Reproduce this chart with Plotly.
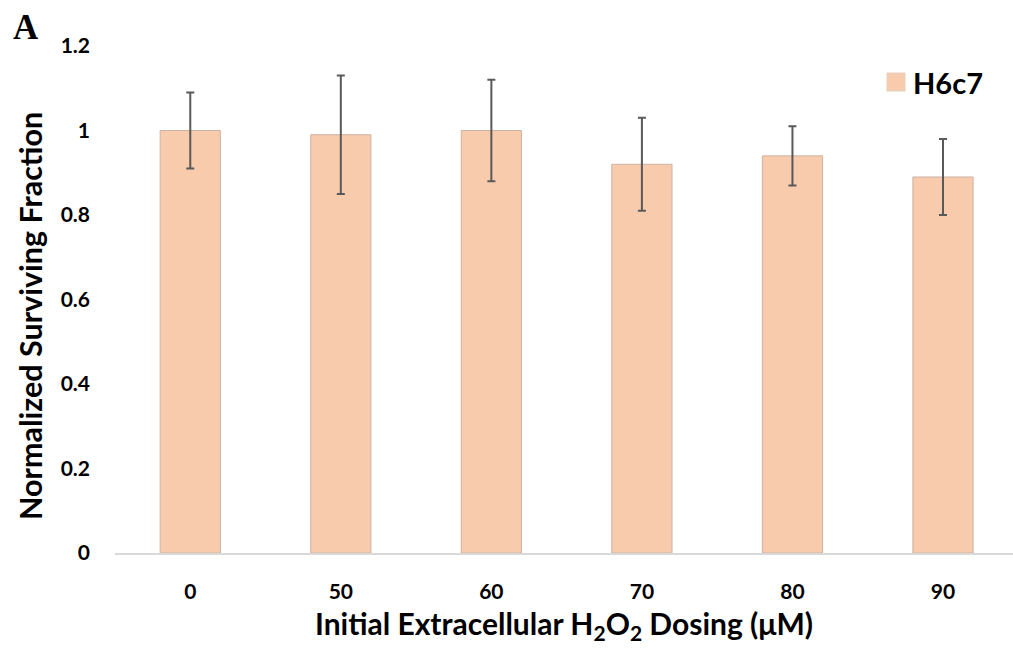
import plotly.graph_objects as go

# Survival of H6c7 cells after extracellular H2O2 dosing
doses = ["0", "50", "60", "70", "80", "90"]
surviving_fraction = [1.00, 0.99, 1.00, 0.92, 0.94, 0.89]
error = [0.09, 0.14, 0.12, 0.11, 0.07, 0.09]
series_name = "H6c7"
y_ticks = [0, 0.2, 0.4, 0.6, 0.8, 1, 1.2]
y_tick_text = ["0", "0.2", "0.4", "0.6", "0.8", "1", "1.2"]

FONT = "Lato"
BAR_FILL = "#F8CBAD"
W, H = 1013, 650
ML, MT, MB = 115, 46, 97
plot_w = W - ML
plot_h = H - MT - MB


def px_x(px):
    """Figure pixel column -> plot-domain fraction."""
    return (px - ML) / plot_w


def px_y(py):
    """Figure pixel row -> plot-domain fraction."""
    return 1 - (py - MT) / plot_h


fig = go.Figure()
fig.add_trace(go.Bar(
    x=doses,
    y=surviving_fraction,
    name=series_name,
    width=0.4,
    marker=dict(color=BAR_FILL, line=dict(color="#CDB3A3", width=1)),
    error_y=dict(type="data", array=error, visible=True,
                 color="#595959", thickness=2, width=4),
    showlegend=False,
))

fig.update_layout(
    width=W, height=H,
    margin=dict(l=ML, r=0, t=MT, b=MB),
    paper_bgcolor="white", plot_bgcolor="white",
    font=dict(family=FONT, color="black"),
    showlegend=False,
)

fig.update_xaxes(
    type="category",
    range=[-0.5, 5.465],
    showline=True, linecolor="#D9D9D9", linewidth=1.5,
    showgrid=False, zeroline=False,
    ticks="", ticklabelstandoff=19,
    tickfont=dict(family=FONT, size=21, color="black", weight="bold"),
    title=dict(text="Initial Extracellular H<sub>2</sub>O<sub>2</sub> Dosing (μM)",
               font=dict(family=FONT, size=30, color="black", weight="bold"),
               standoff=12),
)

fig.update_yaxes(
    range=[0, 1.2],
    tickvals=y_ticks,
    ticktext=y_tick_text,
    showline=False, showgrid=False, zeroline=False,
    ticks="", ticklabelstandoff=24,
    tickfont=dict(family=FONT, size=21, color="black", weight="bold"),
)

# Y-axis title
fig.add_annotation(
    text="<b>Normalized Surviving Fraction</b>",
    x=px_x(30), y=px_y(316), xref="paper", yref="paper",
    xanchor="center", yanchor="middle", textangle=-90, showarrow=False,
    font=dict(family=FONT, size=30.5, color="black"),
)

# Series key: swatch + label
fig.add_shape(
    type="rect", xref="paper", yref="paper",
    x0=px_x(887), x1=px_x(905), y0=px_y(91), y1=px_y(73),
    fillcolor=BAR_FILL, line=dict(color="#E6CFC0", width=1),
)
fig.add_annotation(
    text=f"<b>{series_name}</b>",
    x=px_x(911), y=px_y(82), xref="paper", yref="paper",
    xanchor="left", yanchor="middle", showarrow=False,
    font=dict(family=FONT, size=29, color="black"),
)

# Panel letter
fig.add_annotation(
    text="<b>A</b>",
    x=px_x(11), y=px_y(6), xref="paper", yref="paper",
    xanchor="left", yanchor="top", showarrow=False,
    font=dict(family="Liberation Serif", size=35, color="black"),
)

fig.write_html("out.html")
